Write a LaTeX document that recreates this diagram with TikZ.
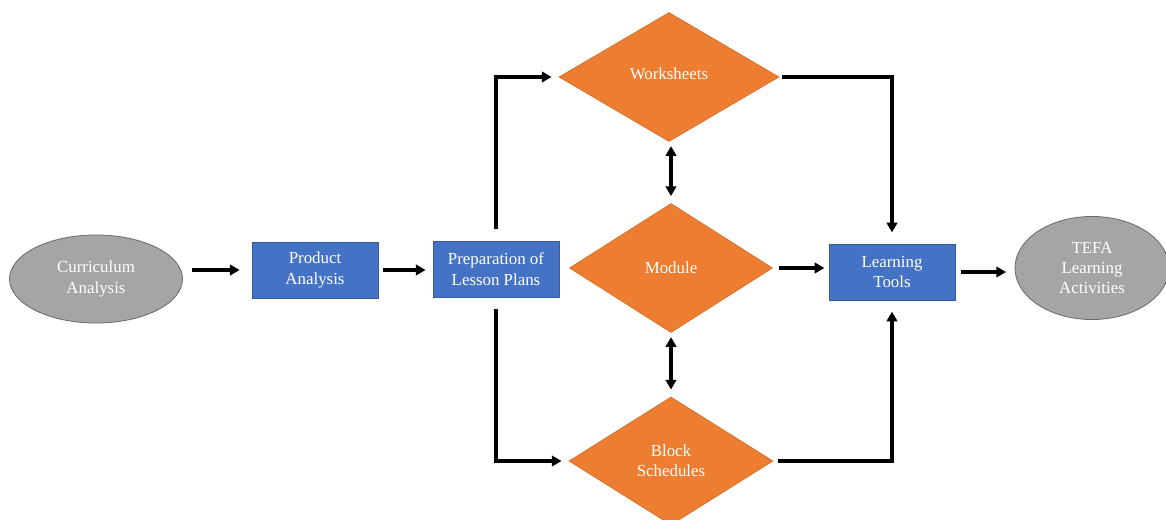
\documentclass[tikz,border=0pt]{standalone}
\usepackage{fontspec}
\setmainfont{Liberation Serif}
\usetikzlibrary{shapes.geometric,arrows.meta}
\definecolor{boxblue}{HTML}{4472C4}
\definecolor{diaorange}{HTML}{ED7D31}
\definecolor{ovalgray}{HTML}{A5A5A5}

\begin{document}
\begin{tikzpicture}[x = 0.025cm, y = -0.025cm,
    every node/.style = {text = white, align = center, font = \fontsize{12}{14.5}\selectfont},
    oval/.style = {ellipse, fill = ovalgray, draw = gray!85!black, line width = 0.6pt},
    task/.style = {rectangle, fill = boxblue, draw = boxblue!80!black, line width = 0.5pt, minimum width = 3.15cm, minimum height = 1.4cm},
    choice/.style = {diamond, fill = diaorange, draw = diaorange!90!black, line width = 0.5pt, inner sep = 0pt},
    link/.style = {line width = 2.2pt, -{Triangle[length = 7pt, width = 7.5pt]}, shorten < = 4pt, shorten > = 5pt},
    twoway/.style = {line width = 2.2pt, {Triangle[length = 7pt, width = 7.5pt]}-{Triangle[length = 7pt, width = 7.5pt]}, shorten < = 3pt, shorten > = 5pt}]
    \useasboundingbox (0, 0) rectangle (1166, 520);

    \node[oval, minimum width = 4.325cm, minimum height = 2.2cm] (curr) at (96, 279) {Curriculum\\Analysis};
    \node[task] (prod) at (315, 270) {Product\\Analysis};
    \node[task] (prep) at (496, 269) {Preparation of\\Lesson Plans};
    \node[choice, minimum width = 5.5cm, minimum height = 3.225cm] (work) at (669, 77) {\raisebox{0.15cm}{Worksheets}};
    \node[choice, minimum width = 5.075cm, minimum height = 3.225cm] (mod) at (671, 268) {Module};
    \node[choice, minimum width = 5.1cm, minimum height = 3.2cm] (block) at (671, 461) {Block\\Schedules};
    \node[task] (tools) at (892, 272) {Learning\\Tools};
    \node[oval, minimum width = 3.85cm, minimum height = 2.575cm] (tefa) at (1092, 268) {TEFA\\Learning\\Activities};

    \draw[link, shorten < = 6.5pt, shorten > = 8.5pt] (curr.east |- prod.west) -- (prod.west);
    \draw[link, shorten < = 3pt] (prod.east) -- (prod.east -| prep.west);
    \draw[link, shorten < = 8pt] (prep.north) |- (work.west);
    \draw[link, shorten < = 8pt] (prep.south) |- (block.west);
    \draw[twoway] (mod.north |- work.south) -- (mod.north);
    \draw[twoway] (mod.south) -- (block.north);
    \draw[link, shorten < = 2pt, shorten > = 8pt] (work.east) -| (tools.north);
    \draw[link, shorten > = 3pt] (mod.east) -- (mod.east -| tools.west);
    \draw[link, shorten < = 3pt, shorten > = 8pt] (block.east) -| (tools.south);
    \draw[link, shorten > = 6pt] (tools.east) -- (tools.east -| tefa.west);
\end{tikzpicture}
\end{document}
